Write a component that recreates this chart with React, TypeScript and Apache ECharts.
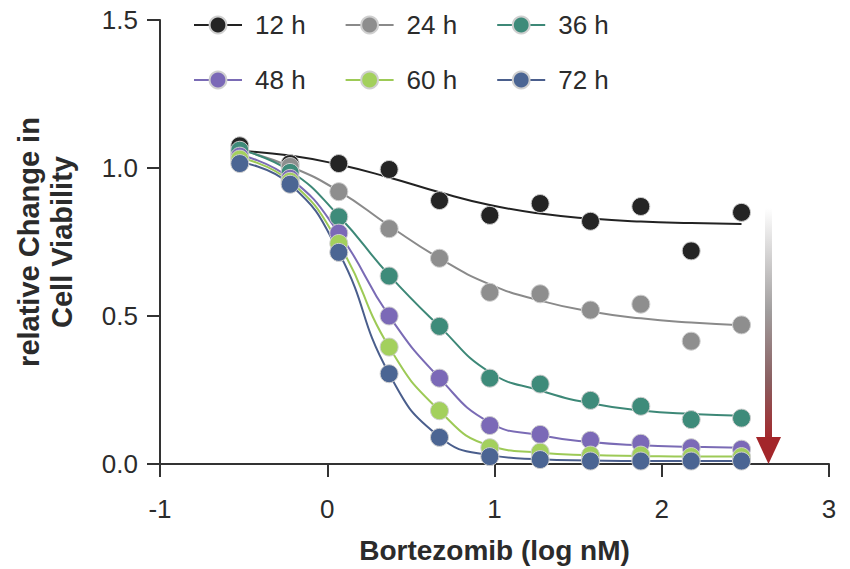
import React, { useEffect, useRef } from "react";
import * as echarts from "echarts";

// log10 of Bortezomib concentration (nM), 2-fold dilutions
const xValues = [-0.523, -0.222, 0.069, 0.37, 0.671, 0.972, 1.273, 1.574, 1.875, 2.176, 2.477];

const seriesNames = ["12 h", "24 h", "36 h", "48 h", "60 h", "72 h"];

// measured points
const pts12 = [1.075, 1.015, 1.015, 0.995, 0.89, 0.84, 0.88, 0.82, 0.87, 0.72, 0.85];
const pts24 = [1.05, 1.005, 0.92, 0.795, 0.695, 0.58, 0.575, 0.52, 0.54, 0.415, 0.47];
const pts36 = [1.06, 0.985, 0.835, 0.635, 0.465, 0.29, 0.27, 0.215, 0.195, 0.15, 0.155];
const pts48 = [1.04, 0.965, 0.78, 0.5, 0.29, 0.13, 0.1, 0.08, 0.07, 0.055, 0.05];
const pts60 = [1.03, 0.955, 0.745, 0.395, 0.18, 0.055, 0.04, 0.03, 0.03, 0.025, 0.025];
const pts72 = [1.015, 0.945, 0.715, 0.305, 0.09, 0.025, 0.015, 0.01, 0.01, 0.01, 0.01];

// fitted curve values read at the same x positions
const fit12 = [1.058, 1.042, 1.012, 0.968, 0.918, 0.875, 0.846, 0.829, 0.819, 0.814, 0.811];
const fit24 = [1.062, 1.005, 0.922, 0.805, 0.695, 0.607, 0.552, 0.515, 0.492, 0.478, 0.469];
const fit36 = [1.062, 0.99, 0.838, 0.638, 0.465, 0.31, 0.248, 0.205, 0.181, 0.169, 0.163];
const fit48 = [1.045, 0.965, 0.78, 0.5, 0.29, 0.14, 0.097, 0.074, 0.063, 0.058, 0.055];
const fit60 = [1.035, 0.955, 0.745, 0.395, 0.18, 0.062, 0.038, 0.03, 0.027, 0.025, 0.025];
const fit72 = [1.02, 0.945, 0.715, 0.305, 0.092, 0.03, 0.016, 0.012, 0.01, 0.01, 0.01];

const yTicks = [0, 0.5, 1.0, 1.5];
const xTicks = [-1, 0, 1, 2, 3];

const pointSets = [pts12, pts24, pts36, pts48, pts60, pts72];
const fitSets = [fit12, fit24, fit36, fit48, fit60, fit72];
const pointColors = ["#242424", "#8e8e8e", "#3e8b7a", "#7b69b7", "#a3d05d", "#4b6593"];
const lineColors = ["#222222", "#8a8a8a", "#3d8877", "#7a6bb5", "#9dca56", "#4a5e8c"];

const FONT = "'Liberation Sans', Arial, Helvetica, sans-serif";
const TEXT = "#2b2b2b";

export default function App() {
  const ref = useRef<HTMLDivElement>(null);

  useEffect(() => {
    if (!ref.current) return;
    const chart = echarts.init(ref.current, undefined, { renderer: "svg" });

    const lineSeries = seriesNames.map((name, i) => ({
      name,
      type: "line",
      data: xValues.map((x, j) => [x, fitSets[i][j]]),
      smooth: 0.5,
      symbol: "circle",
      showSymbol: false,
      lineStyle: { color: lineColors[i], width: 2 },
      itemStyle: { color: pointColors[i], borderColor: "#cfcfcf", borderWidth: 1 },
      emphasis: { disabled: true },
      z: 2,
    }));

    const scatterSeries = seriesNames.map((name, i) => ({
      name,
      type: "scatter",
      data: xValues.map((x, j) => [x, pointSets[i][j]]),
      symbol: "circle",
      symbolSize: 18,
      itemStyle: { color: pointColors[i], borderColor: "#cfcfcf", borderWidth: 1, opacity: 1 },
      emphasis: { disabled: true },
      z: 3,
    }));

    const legendCommon = {
      orient: "horizontal",
      left: 193,
      itemWidth: 48,
      itemHeight: 21,
      itemGap: 39,
      padding: 0,
      selectedMode: false,
      textStyle: { fontSize: 26, color: TEXT, fontFamily: FONT, padding: [0, 0, 0, 8] },
    };

    chart.setOption({
      animation: false,
      textStyle: { fontFamily: FONT },
      grid: { left: 160, right: 21, top: 20, bottom: 102, containLabel: false },
      legend: [
        { ...legendCommon, top: 12, data: seriesNames.slice(0, 3) },
        { ...legendCommon, top: 67, data: seriesNames.slice(3, 6) },
      ],
      xAxis: {
        type: "value",
        min: xTicks[0],
        max: xTicks[xTicks.length - 1],
        interval: 1,
        name: "Bortezomib (log nM)",
        nameLocation: "middle",
        nameGap: 72,
        nameTextStyle: { fontSize: 28, fontWeight: "bold", color: TEXT, fontFamily: FONT },
        axisLine: { show: true, onZero: false, lineStyle: { color: "#333", width: 2 } },
        axisTick: { show: true, length: 13, lineStyle: { color: "#333", width: 2 } },
        axisLabel: { fontSize: 26, color: TEXT, margin: 32, fontFamily: FONT },
        splitLine: { show: false },
      },
      yAxis: {
        type: "value",
        min: yTicks[0],
        max: yTicks[yTicks.length - 1],
        interval: 0.5,
        name: "relative Change in\nCell Viability",
        nameLocation: "middle",
        nameGap: 82,
        nameTextStyle: { fontSize: 29, fontWeight: "bold", color: TEXT, fontFamily: FONT, lineHeight: 33 },
        axisLine: { show: true, onZero: false, lineStyle: { color: "#333", width: 2 } },
        axisTick: { show: true, length: 13, lineStyle: { color: "#333", width: 2 } },
        axisLabel: {
          fontSize: 26,
          color: TEXT,
          margin: 22,
          fontFamily: FONT,
          formatter: (v: number) => v.toFixed(1),
        },
        splitLine: { show: false },
      },
      graphic: [
        {
          type: "rect",
          shape: { x: 765, y: 208, width: 7, height: 231 },
          style: {
            fill: {
              type: "linear",
              x: 0,
              y: 0,
              x2: 0,
              y2: 1,
              colorStops: [
                { offset: 0, color: "#ffffff" },
                { offset: 0.45, color: "#a09d9d" },
                { offset: 0.75, color: "#8a5e60" },
                { offset: 1, color: "#a3282c" },
              ],
            },
          },
          z: 1,
        },
        {
          type: "polygon",
          shape: { points: [[756, 437], [781, 437], [768.5, 464]] },
          style: { fill: "#a3262a" },
          z: 1,
        },
      ],
      series: [...lineSeries, ...scatterSeries],
    });

    return () => {
      chart.dispose();
    };
  }, []);

  return (
    <div
      ref={ref}
      style={{ position: "fixed", left: 0, top: 0, width: 850, height: 569, background: "#fff" }}
    />
  );
}
